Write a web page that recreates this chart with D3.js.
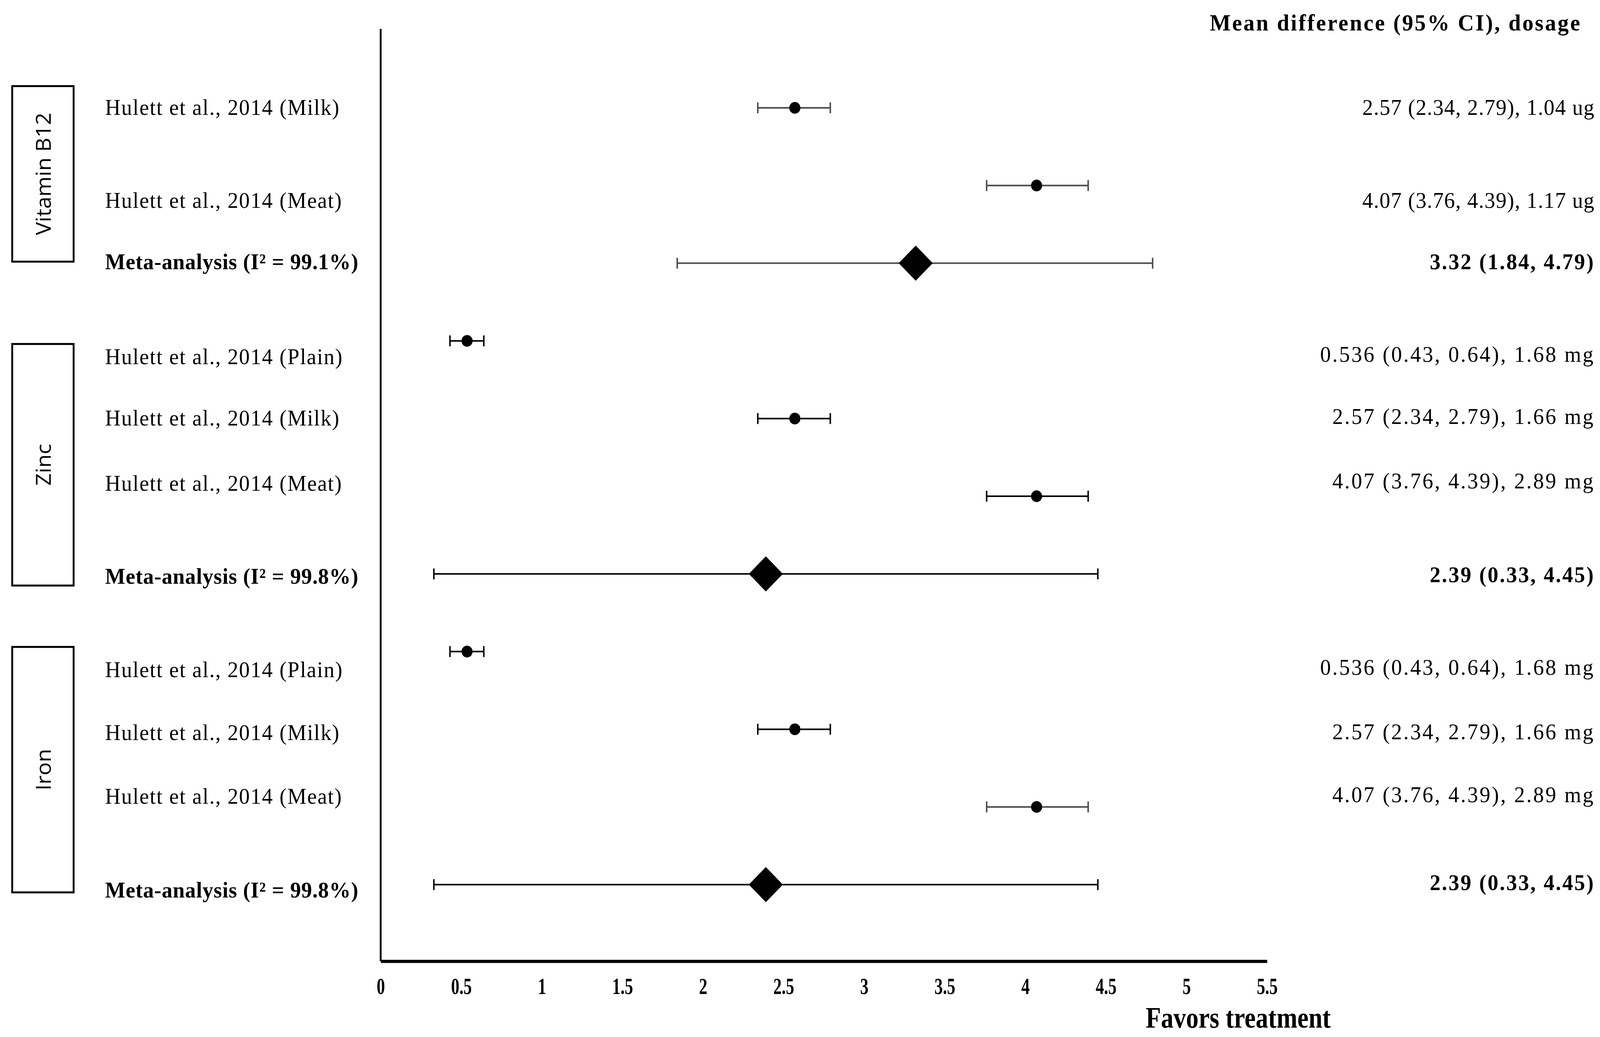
<!DOCTYPE html>
<html lang="en">
<head>
<meta charset="UTF-8">
<title>Forest plot</title>
<script src="https://d3js.org/d3.v7.min.js"></script>
<style>
  html, body { margin: 0; padding: 0; width: 100%; height: 100%; overflow: hidden; background: #fff; }
  svg { display: block; width: 100vw; height: 100vh; }
  .serif { font-family: "Liberation Serif", "Times New Roman", serif; fill: #000; }
  .sans { font-family: "Open Sans", "Noto Sans", sans-serif; fill: #000; }
</style>
</head>
<body>
<svg id="chart" viewBox="0 0 4325 2654" preserveAspectRatio="none"></svg>
<script>
// data
const groups = ["Vitamin B12", "Zinc", "Iron"]
const studies = [
  "Hulett et al., 2014 (Milk)", "Hulett et al., 2014 (Meat)", "Meta-analysis (I\u00b2 = 99.1%)",
  "Hulett et al., 2014 (Plain)", "Hulett et al., 2014 (Milk)", "Hulett et al., 2014 (Meat)", "Meta-analysis (I\u00b2 = 99.8%)",
  "Hulett et al., 2014 (Plain)", "Hulett et al., 2014 (Milk)", "Hulett et al., 2014 (Meat)", "Meta-analysis (I\u00b2 = 99.8%)"
]
const isMeta = [false, false, true, false, false, false, true, false, false, false, true]
const est = [2.57, 4.07, 3.32, 0.536, 2.57, 4.07, 2.39, 0.536, 2.57, 4.07, 2.39]
const lo  = [2.34, 3.76, 1.84, 0.43, 2.34, 3.76, 0.33, 0.43, 2.34, 3.76, 0.33]
const hi  = [2.79, 4.39, 4.79, 0.64, 2.79, 4.39, 4.45, 0.64, 2.79, 4.39, 4.45]
const dosage = ["1.04 ug", "1.17 ug", "", "1.68 mg", "1.66 mg", "2.89 mg", "", "1.68 mg", "1.66 mg", "2.89 mg", ""]
const xTicks = [0, 0.5, 1, 1.5, 2, 2.5, 3, 3.5, 4, 4.5, 5, 5.5]

// layout (row units: 0 = first study row)
const labelRow = [-0.01, 1.19, 1.98, 3.2, 3.99, 4.83, 6.03, 7.23, 8.04, 8.86, 10.07]
const valueRow = [-0.01, 1.19, 1.98, 3.17, 3.97, 4.8, 6.01, 7.2, 8.03, 8.84, 9.97]
const valueSpacing = [1.5, 1.5, 3.5, 4, 4, 4, 3.5, 4, 4, 4, 3.5]
const boxSpan = [[-0.28, 1.98], [3.04, 6.15], [6.94, 10.1]]
const grayRow = [true, true, true, false, false, false, false, false, false, true, false]

const svg = d3.select("#chart")
const x = d3.scaleLinear().domain([0, 5.5]).range([1029, 3425])
const y = d3.scaleLinear().domain([0, 10]).range([276, 2264])
const axisY = 2460

// left axis line
svg.append("line").attr("x1", x(0)).attr("x2", x(0)).attr("y1", 74).attr("y2", axisY)
  .attr("stroke", "#000").attr("stroke-width", 5)

// bottom axis
const xAxis = svg.append("g").attr("transform", `translate(0,${axisY})`)
  .call(d3.axisBottom(x).tickValues(xTicks).tickSize(0).tickSizeOuter(0).tickPadding(64).tickFormat(d => String(d)))
xAxis.select(".domain").attr("stroke", "#000").attr("stroke-width", 8)
xAxis.selectAll("text").attr("class", "serif").attr("font-size", 60).attr("font-weight", "bold")
  .attr("dy", 0).attr("dominant-baseline", "central").attr("y", 64)
  .attr("transform", "scale(0.75,1)")

svg.append("text").attr("class", "serif").attr("font-weight", "bold").attr("font-size", 76)
  .attr("text-anchor", "middle").attr("dominant-baseline", "central")
  .attr("transform", `translate(3347,2604) scale(0.89,1)`).text("Favors treatment")

// header
svg.append("text").attr("class", "serif").attr("font-weight", "bold").attr("font-size", 60)
  .attr("letter-spacing", 4).attr("x", 4275).attr("y", 58).attr("text-anchor", "end")
  .attr("dominant-baseline", "central").text("Mean difference (95% CI), dosage")

// group boxes
const box = svg.selectAll(".grp").data(groups).join("g").attr("class", "grp")
box.append("rect").attr("x", 33).attr("width", 166)
  .attr("y", (d, i) => y(boxSpan[i][0])).attr("height", (d, i) => y(boxSpan[i][1]) - y(boxSpan[i][0]))
  .attr("fill", "none").attr("stroke", "#000").attr("stroke-width", 5)
box.append("text").attr("class", "sans").attr("font-size", 56)
  .attr("text-anchor", "middle").attr("dominant-baseline", "central")
  .attr("transform", (d, i) => `translate(116,${(y(boxSpan[i][0]) + y(boxSpan[i][1])) / 2}) rotate(-90)`)
  .text(d => d)

// study labels
svg.selectAll(".lab").data(studies).join("text").attr("class", "lab serif")
  .attr("x", 284).attr("y", (d, i) => y(labelRow[i])).attr("dominant-baseline", "central")
  .attr("font-size", 58).attr("font-weight", (d, i) => isMeta[i] ? "bold" : "normal")
  .attr("letter-spacing", (d, i) => isMeta[i] ? 1 : 2)
  .text(d => d)

// value labels
svg.selectAll(".val").data(est).join("text").attr("class", "val serif")
  .attr("x", 4311).attr("y", (d, i) => y(valueRow[i])).attr("dominant-baseline", "central")
  .attr("text-anchor", "end").attr("font-size", 58)
  .attr("font-weight", (d, i) => isMeta[i] ? "bold" : "normal")
  .attr("letter-spacing", (d, i) => valueSpacing[i])
  .text((d, i) => `${d} (${lo[i]}, ${hi[i]})` + (dosage[i] ? `, ${dosage[i]}` : ""))

// confidence intervals
const rows = svg.selectAll(".row").data(est).join("g").attr("class", "row")
  .attr("transform", (d, i) => `translate(0,${y(i)})`)
  .attr("stroke", (d, i) => grayRow[i] ? "#4a4a4a" : "#000")
rows.append("line").attr("x1", (d, i) => x(lo[i])).attr("x2", (d, i) => x(hi[i]))
  .attr("stroke-width", 4)
rows.append("line").attr("x1", (d, i) => x(lo[i])).attr("x2", (d, i) => x(lo[i]))
  .attr("y1", -14).attr("y2", 14).attr("stroke-width", 4)
rows.append("line").attr("x1", (d, i) => x(hi[i])).attr("x2", (d, i) => x(hi[i]))
  .attr("y1", -14).attr("y2", 14).attr("stroke-width", 4)

// point estimates
rows.filter((d, i) => !isMeta[i]).append("circle")
  .attr("cx", d => x(d)).attr("r", 15).attr("fill", "#000").attr("stroke", "none")
rows.filter((d, i) => isMeta[i]).append("path")
  .attr("d", d => `M${x(d) - 46},0L${x(d)},-45L${x(d) + 46},0L${x(d)},45Z`)
  .attr("fill", "#000").attr("stroke", "none")
</script>
</body>
</html>
